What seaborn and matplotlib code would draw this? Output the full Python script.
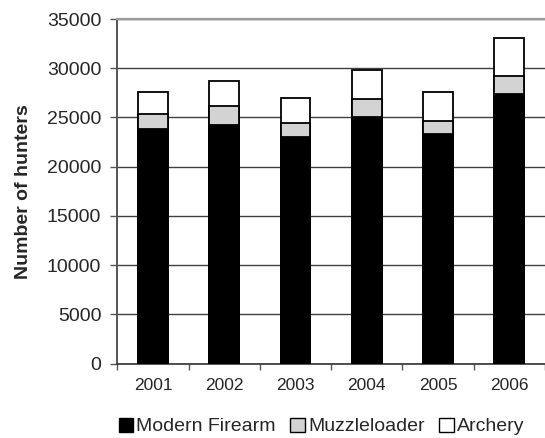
import matplotlib
matplotlib.use("Agg")
import matplotlib.pyplot as plt
from matplotlib.patches import Patch
import seaborn as sns
import pandas as pd
import numpy as np

years = ["2001", "2002", "2003", "2004", "2005", "2006"]
modern_firearm = [23850, 24250, 23000, 25050, 23300, 27350]
muzzleloader = [1480, 1880, 1410, 1860, 1350, 1890]
archery = [2300, 2610, 2530, 2940, 2970, 3880]

sns.set_theme(style="white")
plt.rcParams['font.family'] = ['Liberation Sans', 'DejaVu Sans']

df = pd.DataFrame({"year": years,
                   "mf": modern_firearm,
                   "mz": muzzleloader,
                   "ar": archery})
df["lvl2"] = df["mf"] + df["mz"]
df["lvl3"] = df["lvl2"] + df["ar"]

W, H = 545, 438
fig = plt.figure(figsize=(W / 100, H / 100), dpi=100)
x0, x1, ytop, ybot = 117.3, 545, 19, 363.6
ax = fig.add_axes([x0 / W, 1 - ybot / H, (x1 - x0) / W, (ybot - ytop) / H])

w = 0.42
sns.barplot(data=df, x="year", y="lvl3", color="white", edgecolor="black",
            linewidth=1.3, width=w, ax=ax, saturation=1, zorder=3)
sns.barplot(data=df, x="year", y="lvl2", color="#d3d3d3", edgecolor="black",
            linewidth=1.3, width=w, ax=ax, saturation=1, zorder=3)
sns.barplot(data=df, x="year", y="mf", color="black", edgecolor="black",
            linewidth=1.3, width=w, ax=ax, saturation=1, zorder=3)

ax.set_ylim(0, 35000)
ax.set_yticks(np.arange(0, 35001, 5000))
ax.yaxis.grid(True, color="#404040", linewidth=1.0, zorder=0)
ax.xaxis.grid(False)
ax.set_xlim(-0.5, 5.41)

ax.spines["right"].set_visible(False)
ax.spines["top"].set_visible(True)
ax.spines["top"].set_color("#9a9a9a")
ax.spines["top"].set_linewidth(1.6)
ax.spines["left"].set_color("#555555")
ax.spines["left"].set_linewidth(1.4)
ax.spines["bottom"].set_color("#333333")
ax.spines["bottom"].set_linewidth(1.2)

ax.set_xticks(range(6))
ax.set_xticklabels(years, fontsize=12.5)
ax.set_xticks(np.arange(-0.5, 5.6, 1), minor=True)
ax.tick_params(axis="x", which="major", length=0, pad=10.5)
ax.tick_params(axis="x", which="minor", length=4, width=1, color="#555555", direction="out", bottom=True)
ax.tick_params(axis="y", length=5, width=1, color="#555555", direction="out",
               labelsize=14, pad=6.5, left=True)
ax.set_xlabel("")
ax.set_ylabel("Number of hunters", fontsize=14, fontweight="bold", va="center")
ax.yaxis.set_label_coords((23.4 - x0) / (x1 - x0), 0.5)

handles = [Patch(facecolor="black", edgecolor="black", label="Modern Firearm"),
           Patch(facecolor="#d3d3d3", edgecolor="black", label="Muzzleloader"),
           Patch(facecolor="white", edgecolor="black", label="Archery")]
fig.legend(handles=handles, loc="center", bbox_to_anchor=(321.5 / W, 1 - 426.5 / H),
           ncol=3, frameon=False, fontsize=14, handlelength=0.75, handleheight=0.75,
           handletextpad=0.15, columnspacing=0.75, borderaxespad=0, borderpad=0)

fig.savefig("out.png", dpi=100)
